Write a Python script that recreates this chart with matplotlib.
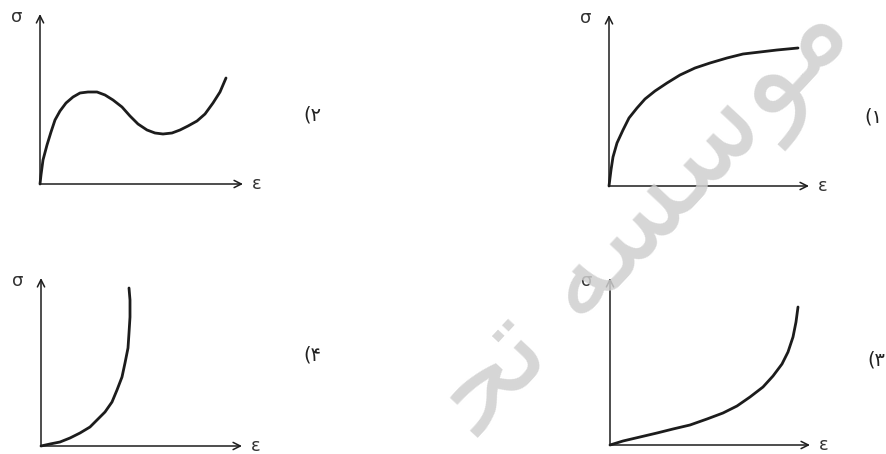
import matplotlib
matplotlib.use("Agg")
import matplotlib.pyplot as plt

plt.rcParams['font.family'] = ['DejaVu Sans']

# stress-strain sketches, values (arbitrary units)
eps_1 = [0, 2, 4, 8, 14, 20, 28, 36, 46, 58, 71, 86, 101, 118, 134, 151, 168, 189]
sig_1 = [0, 16, 29, 43, 56, 68, 78, 87, 95, 103, 111, 118, 123, 128, 132, 134, 136, 138]

eps_2 = [0, 1, 3, 7, 11, 15, 20, 26, 33, 40, 48, 57, 65, 73, 82, 90, 98, 107,
         115, 123, 132, 140, 148, 157, 165, 173, 180, 186]
sig_2 = [0, 9, 24, 39, 52, 64, 73, 81, 87, 91, 92, 92, 89, 84, 77, 68, 60, 54,
         51, 50, 51, 54, 58, 63, 70, 81, 92, 106]

eps_3 = [0, 13, 30, 47, 63, 80, 97, 113, 127, 140, 153, 163, 172, 178, 183, 186, 188]
sig_3 = [0, 4, 8, 12, 16, 20, 26, 32, 39, 48, 58, 69, 81, 93, 108, 123, 138]

eps_4 = [0, 9, 19, 29, 39, 49, 57, 64, 71, 76, 81, 84, 87, 88, 89, 89, 88]
sig_4 = [0, 2, 4, 8, 13, 19, 27, 34, 44, 56, 69, 83, 98, 113, 129, 146, 158]

labels = ['(۱', '(۲', '(۳', '(۴']

W, H = 886, 454
fig = plt.figure(figsize=(W / 100, H / 100), dpi=100)

# panel layout in pixels: origin x, origin y, x-axis length, y-axis length, label x, label y
layout = [
    (609, 186, 200, 171, 873, 117),
    (40, 184, 203, 170, 312, 115),
    (610, 445, 200, 167, 876, 360),
    (41, 446, 201, 168, 312, 355),
]
curves = [(eps_1, sig_1), (eps_2, sig_2), (eps_3, sig_3), (eps_4, sig_4)]

ink = '#1c1c1c'

# watermark (pre-shaped letters, reversed for left-to-right drawing)
wm = '\uFEA4\uFE97 \uFEEA\uFEB4\uFEB3\uFEEE\uFEE3'
fig.text(855 / W, 1 - 35 / H, wm, fontsize=87, color='#cfcfcf', alpha=0.85,
         rotation=47, ha='right', va='baseline', rotation_mode='anchor', zorder=5)

for (x0, y0, xl, yl, lx, ly), (e, s), lab in zip(layout, curves, labels):
    ax = fig.add_axes([x0 / W, (H - y0) / H, xl / W, yl / H])
    ax.set_xlim(0, xl)
    ax.set_ylim(0, yl)
    ax.axis('off')
    ax.patch.set_alpha(0)

    arrow = dict(arrowstyle='->', lw=1.1, color=ink, mutation_scale=13,
                 shrinkA=0, shrinkB=0)
    ax.annotate('', xy=(1, 0), xytext=(0, 0), xycoords='axes fraction',
                arrowprops=arrow)
    ax.annotate('', xy=(0, 1), xytext=(0, 0), xycoords='axes fraction',
                arrowprops=arrow)

    ax.plot(e, s, color=ink, lw=2.0, clip_on=False, solid_capstyle='round',
            solid_joinstyle='round')

    ax.text(-23, yl - 3, 'σ', fontsize=13, color='#333', ha='center', va='center')
    ax.text(xl + 14, 0, 'ε', fontsize=13, color='#333', ha='center', va='center')

    fig.text(lx / W, 1 - ly / H, lab, fontsize=14, color='#222',
             ha='center', va='center')

fig.savefig('out.png', dpi=100, facecolor='white')
